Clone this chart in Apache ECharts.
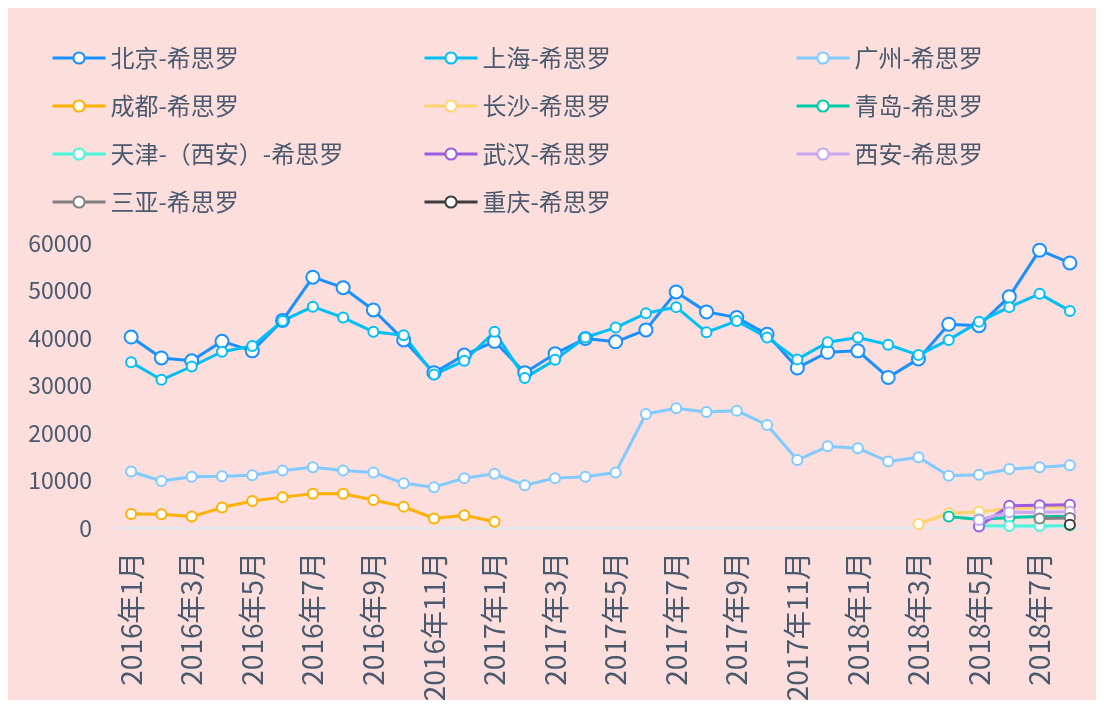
<!DOCTYPE html>
<html>
<head>
<meta charset="utf-8">
<script src="https://cdn.jsdelivr.net/npm/echarts@6/dist/echarts.min.js"></script>
<style>
  #main { width: 1088px; height: 692px; }
</style>
</head>
<body>
<div id="main"></div>
<script>
const months = [
  '2016年1月', '2016年2月', '2016年3月', '2016年4月', '2016年5月', '2016年6月',
  '2016年7月', '2016年8月', '2016年9月', '2016年10月', '2016年11月', '2016年12月',
  '2017年1月', '2017年2月', '2017年3月', '2017年4月', '2017年5月', '2017年6月',
  '2017年7月', '2017年8月', '2017年9月', '2017年10月', '2017年11月', '2017年12月',
  '2018年1月', '2018年2月', '2018年3月', '2018年4月', '2018年5月', '2018年6月',
  '2018年7月', '2018年8月'
];
const yTicks = [0, 10000, 20000, 30000, 40000, 50000, 60000];

const beijing = [40200, 35800, 35200, 39300, 37300, 43700, 52800, 50600, 45900, 39600, 32700, 36400,
  39300, 32700, 36700, 39900, 39200, 41700, 49700, 45500, 44300, 40800, 33700, 37000,
  37300, 31700, 35600, 42900, 42600, 48700, 58500, 55800];
const shanghai = [34900, 31200, 34000, 37100, 38300, 43600, 46600, 44300, 41300, 40600, 32300, 35200,
  41300, 31600, 35400, 40100, 42200, 45200, 46500, 41200, 43600, 40100, 35500, 39100,
  40100, 38600, 36400, 39600, 43400, 46500, 49300, 45700];
const guangzhou = [11900, 9900, 10800, 10900, 11100, 12100, 12800, 12100, 11700, 9400, 8600, 10500,
  11400, 9000, 10500, 10800, 11700, 24000, 25200, 24400, 24700, 21700, 14300, 17200,
  16800, 14000, 14900, 11000, 11200, 12400, 12800, 13200];
const chengdu = [2950, 2900, 2400, 4300, 5700, 6500, 7200, 7200, 5900, 4500, 2000, 2700,
  1300, null, null, null, null, null, null, null, null, null, null, null,
  null, null, null, null, null, null, null, null];
const changsha = [null, null, null, null, null, null, null, null, null, null, null, null,
  null, null, null, null, null, null, null, null, null, null, null, null,
  null, null, 850, 3100, 3400, 4100, 4300, 4400];
const qingdao = [null, null, null, null, null, null, null, null, null, null, null, null,
  null, null, null, null, null, null, null, null, null, null, null, null,
  null, null, null, 2400, 1800, 2200, 2400, 2400];
const tianjin = [null, null, null, null, null, null, null, null, null, null, null, null,
  null, null, null, null, null, null, null, null, null, null, null, null,
  null, null, null, null, 500, 400, 400, 500];
const wuhan = [null, null, null, null, null, null, null, null, null, null, null, null,
  null, null, null, null, null, null, null, null, null, null, null, null,
  null, null, null, null, 300, 4700, 4800, 4900];
const xian = [null, null, null, null, null, null, null, null, null, null, null, null,
  null, null, null, null, null, null, null, null, null, null, null, null,
  null, null, null, null, 1700, 3300, 3300, 3400];
const sanya = [null, null, null, null, null, null, null, null, null, null, null, null,
  null, null, null, null, null, null, null, null, null, null, null, null,
  null, null, null, null, null, null, 2000, 2100];
const chongqing = [null, null, null, null, null, null, null, null, null, null, null, null,
  null, null, null, null, null, null, null, null, null, null, null, null,
  null, null, null, null, null, null, null, 700];

const names = ['北京-希思罗', '上海-希思罗', '广州-希思罗', '成都-希思罗', '长沙-希思罗', '青岛-希思罗',
  '天津-（西安）-希思罗', '武汉-希思罗', '西安-希思罗', '三亚-希思罗', '重庆-希思罗'];
const values = [beijing, shanghai, guangzhou, chengdu, changsha, qingdao, tianjin, wuhan, xian, sanya, chongqing];
const colors = ['#1890ff', '#00bff5', '#80caff', '#ffb000', '#ffd36e', '#00c9a7',
  '#48f5dc', '#9b5de0', '#c8a6f0', '#808080', '#3d3d3d'];

const textColor = '#4a5a6e';
const fontFamily = '"Noto Sans CJK SC", sans-serif';

const chart = echarts.init(document.getElementById('main'));

let series = names.map(function (name, i) {
  return {
    name: name,
    type: 'line',
    data: values[i],
    symbol: 'emptyCircle',
    symbolSize: i === 0 ? 13 : 10,
    lineStyle: { width: 3 },
    itemStyle: { borderWidth: i === 0 ? 2.5 : 2 },
    connectNulls: false
  };
});

// three legend columns, filled row by row like the original
let legendLefts = [38, 410, 782];
let legends = legendLefts.map(function (left, col) {
  return {
    orient: 'vertical',
    left: left,
    top: 33,
    itemWidth: 53,
    itemHeight: 14,
    itemGap: 24,
    lineStyle: { width: 3 },
    textStyle: {
      fontSize: 24,
      color: textColor,
      fontFamily: fontFamily
    },
    data: names.filter(function (n, i) { return i % 3 === col; })
  };
});

chart.setOption({
  backgroundColor: '#fcdedc',
  color: colors,
  textStyle: { fontFamily: fontFamily },
  legend: legends,
  grid: {
    left: 108,
    right: 11,
    top: 235,
    bottom: 172,
    outerBoundsMode: 'none'
  },
  xAxis: {
    type: 'category',
    data: months,
    axisLine: { lineStyle: { color: '#dfe6ee', width: 2 } },
    axisTick: { show: false },
    axisLabel: {
      interval: 1,
      rotate: 90,
      margin: 24,
      fontSize: 28,
      color: textColor,
      fontFamily: fontFamily
    }
  },
  yAxis: {
    type: 'value',
    min: yTicks[0],
    max: yTicks[yTicks.length - 1],
    interval: yTicks[1] - yTicks[0],
    splitLine: { show: false },
    axisLine: { show: false },
    axisTick: { show: false },
    axisLabel: {
      margin: 24,
      fontSize: 23,
      color: textColor,
      fontFamily: fontFamily,
      formatter: function (v) { return String(v); }
    }
  },
  series: series
});
</script>
</body>
</html>
